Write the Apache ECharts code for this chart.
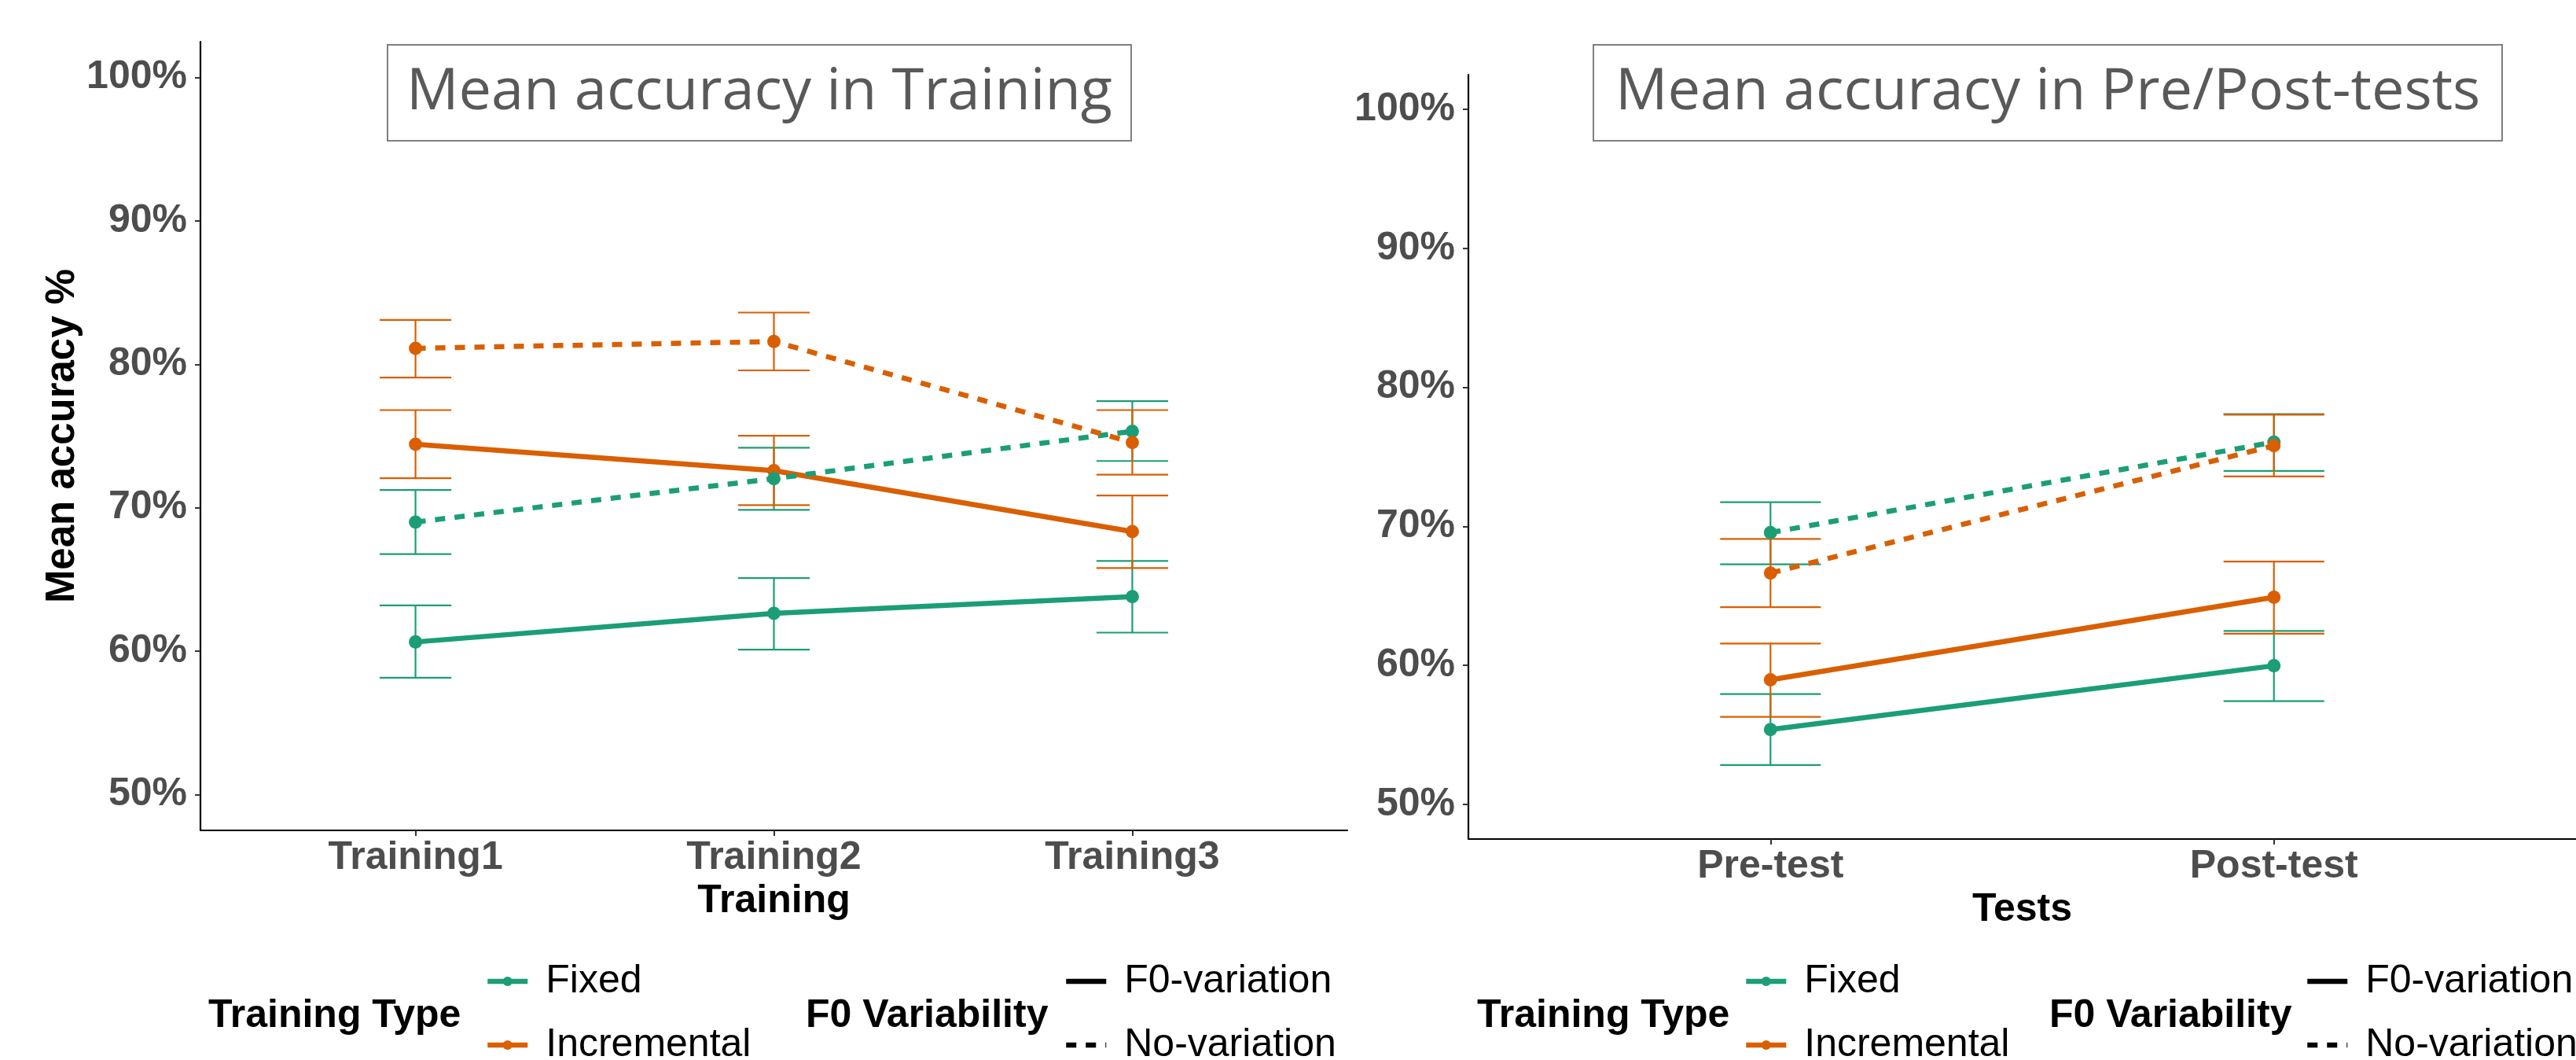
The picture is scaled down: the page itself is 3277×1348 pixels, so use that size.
<!DOCTYPE html>
<html>
<head>
<meta charset="utf-8">
<script src="https://cdn.jsdelivr.net/npm/echarts@6/dist/echarts.min.js"></script>
<style>
html,body{margin:0;padding:0;background:#fff;}
#chart{width:3277px;height:1348px;}
</style>
</head>
<body>
<div id="chart"></div>
<script>
// ---------- data ----------
const trainingCats = ['Training1', 'Training2', 'Training3'];
const testCats = ['Pre-test', 'Post-test'];
const yTicks = [50, 60, 70, 80, 90, 100];

// Training panel (mean, lower, upper)
const fixedF0Train   = [60.64, 62.63, 63.80];
const fixedF0TrainLo = [58.15, 60.11, 61.29];
const fixedF0TrainHi = [63.19, 65.09, 66.29];
const fixedNoTrain   = [69.00, 72.03, 75.33];
const fixedNoTrainLo = [66.77, 69.85, 73.26];
const fixedNoTrainHi = [71.24, 74.18, 77.43];
const incF0Train     = [74.43, 72.59, 68.34];
const incF0TrainLo   = [72.06, 70.18, 65.79];
const incF0TrainHi   = [76.81, 75.02, 70.85];
const incNoTrain     = [81.12, 81.59, 74.55];
const incNoTrainLo   = [79.08, 79.58, 72.31];
const incNoTrainHi   = [83.10, 83.61, 76.81];

// Pre/Post-test panel
const fixedF0Test    = [55.38, 59.97];
const fixedF0TestLo  = [52.83, 57.42];
const fixedF0TestHi  = [57.93, 62.47];
const fixedNoTest    = [69.55, 76.06];
const fixedNoTestLo  = [67.27, 73.99];
const fixedNoTestHi  = [71.74, 78.08];
const incF0Test      = [58.96, 64.90];
const incF0TestLo    = [56.29, 62.27];
const incF0TestHi    = [61.57, 67.47];
const incNoTest      = [66.64, 75.81];
const incNoTestLo    = [64.19, 73.59];
const incNoTestHi    = [69.09, 78.03];

// ---------- styling ----------
const GREEN = '#1b9e77';
const ORANGE = '#d95f02';
const FONT = "'Liberation Sans', Arial, sans-serif";
const TITLE_FONT = "'Open Sans', 'Noto Sans', sans-serif";
const DASH = [13, 12];
const LW = 6.5;

function lineSeries(name, color, vals, dashed, idx) {
  return {
    type: 'line', name: name, xAxisIndex: idx, yAxisIndex: idx, z: 3,
    data: vals.map((v, i) => [i + 1, v]),
    symbol: 'circle', symbolSize: 17, showSymbol: true,
    itemStyle: {color: color},
    lineStyle: {color: color, width: LW, type: dashed ? DASH : 'solid', cap: 'butt'},
    emphasis: {disabled: true}
  };
}
function errSeries(name, color, lo, hi, idx) {
  return {
    type: 'custom', name: name, xAxisIndex: idx, yAxisIndex: idx, z: 2,
    data: lo.map((l, i) => [i + 1, l, hi[i]]),
    encode: {x: 0, y: [1, 2]},
    renderItem: function (params, api) {
      const x = api.value(0);
      const p1 = api.coord([x, api.value(1)]);
      const p2 = api.coord([x, api.value(2)]);
      const hw = api.size([0.1, 0])[0];
      const st = {stroke: color, lineWidth: 2.2, fill: null};
      return {type: 'group', children: [
        {type: 'line', shape: {x1: p1[0], y1: p1[1], x2: p2[0], y2: p2[1]}, style: st},
        {type: 'line', shape: {x1: p1[0] - hw, y1: p1[1], x2: p1[0] + hw, y2: p1[1]}, style: st},
        {type: 'line', shape: {x1: p2[0] - hw, y1: p2[1], x2: p2[0] + hw, y2: p2[1]}, style: st}
      ]};
    }
  };
}
function xAxisDef(idx, cats, maxV, name) {
  const vals = cats.map((c, i) => i + 1);
  return {
    type: 'value', gridIndex: idx, min: 0.4, max: maxV,
    name: name, nameLocation: 'middle', nameGap: 64,
    nameTextStyle: {fontFamily: FONT, fontWeight: 'bold', fontSize: 50, color: '#000'},
    axisLine: {show: true, lineStyle: {color: '#000', width: 2.2}},
    axisTick: {show: true, customValues: vals, length: 7, lineStyle: {color: '#333', width: 2}},
    axisLabel: {show: true, customValues: vals, margin: 10,
      formatter: v => cats[Math.round(v) - 1] || '',
      fontFamily: FONT, fontWeight: 'bold', fontSize: 50, color: '#4d4d4d'},
    splitLine: {show: false}
  };
}
function yAxisDef(idx, name) {
  return {
    type: 'value', gridIndex: idx, min: 47.5, max: 102.5,
    name: name, nameLocation: 'middle', nameGap: 150,
    nameTextStyle: {fontFamily: FONT, fontWeight: 'bold', fontSize: 51, color: '#000'},
    axisLine: {show: true, lineStyle: {color: '#000', width: 2.2}},
    axisTick: {show: true, customValues: yTicks, length: 7, lineStyle: {color: '#333', width: 2}},
    axisLabel: {show: true, customValues: yTicks, margin: 17,
      formatter: v => Math.round(v) + '%',
      fontFamily: FONT, fontWeight: 'bold', fontSize: 50, color: '#4d4d4d'},
    splitLine: {show: false}
  };
}
function legendDef(left, names, hideSymbol) {
  const l = {
    orient: 'vertical', left: left, top: 1223, height: 300, padding: 0, itemGap: 31,
    itemWidth: 51, itemHeight: 15, data: names, selectedMode: false,
    lineStyle: {width: LW},
    textStyle: {fontFamily: FONT, fontSize: 50, lineHeight: 30, color: '#000', padding: [0, 0, 0, 18]}
  };
  if (hideSymbol) l.itemStyle = {color: 'rgba(0,0,0,0)', borderWidth: 0, opacity: 0};
  return l;
}
const titleBox = (text, left, padL) => ({
  text: text, left: left, top: 57,
  borderColor: '#7f7f7f', borderWidth: 2,
  padding: [24, padL, 24, padL],
  textStyle: {fontFamily: TITLE_FONT, fontWeight: 'normal', fontSize: 74, lineHeight: 74, color: '#595959'}
});
const legTitle = (text, left) => ({
  text: text, left: left, top: 1267, padding: 0,
  textStyle: {fontFamily: FONT, fontWeight: 'bold', fontSize: 50, lineHeight: 50, color: '#000'}
});

const chart = echarts.init(document.getElementById('chart'), null, {renderer: 'canvas'});
chart.setOption({
  animation: false,
  backgroundColor: '#fff',
  title: [
    titleBox('Mean accuracy in Training', 493, 24),
    titleBox('Mean accuracy in Pre/Post-tests', 2027, 28),
    legTitle('Training Type', 265),
    legTitle('F0 Variability', 1025),
    legTitle('Training Type', 1879),
    legTitle('F0 Variability', 2607)
  ],
  grid: [
    {left: 255, top: 53, width: 1459, height: 1003, outerBoundsMode: 'none', containLabel: false},
    {left: 1868, top: 95, width: 1409, height: 972, outerBoundsMode: 'none', containLabel: false}
  ],
  xAxis: [
    xAxisDef(0, trainingCats, 3.6, 'Training'),
    xAxisDef(1, testCats, 2.6, 'Tests')
  ],
  yAxis: [
    yAxisDef(0, 'Mean accuracy %'),
    yAxisDef(1, '')
  ],
  legend: [
    legendDef(617, ['Fixed', 'Incremental'], false),
    legendDef(1353, ['F0-variation', 'No-variation'], true),
    legendDef(2218, ['Fixed', 'Incremental'], false),
    legendDef(2932, ['F0-variation', 'No-variation'], true)
  ],
  series: [
    lineSeries('Fixed', GREEN, fixedF0Train, false, 0),
    lineSeries('Incremental', ORANGE, incF0Train, false, 0),
    lineSeries('Fixed', GREEN, fixedNoTrain, true, 0),
    lineSeries('Incremental', ORANGE, incNoTrain, true, 0),
    errSeries('Fixed F0 SE', GREEN, fixedF0TrainLo, fixedF0TrainHi, 0),
    errSeries('Fixed No SE', GREEN, fixedNoTrainLo, fixedNoTrainHi, 0),
    errSeries('Incremental F0 SE', ORANGE, incF0TrainLo, incF0TrainHi, 0),
    errSeries('Incremental No SE', ORANGE, incNoTrainLo, incNoTrainHi, 0),

    lineSeries('Fixed', GREEN, fixedF0Test, false, 1),
    lineSeries('Incremental', ORANGE, incF0Test, false, 1),
    lineSeries('Fixed', GREEN, fixedNoTest, true, 1),
    lineSeries('Incremental', ORANGE, incNoTest, true, 1),
    errSeries('Fixed F0 SE t', GREEN, fixedF0TestLo, fixedF0TestHi, 1),
    errSeries('Fixed No SE t', GREEN, fixedNoTestLo, fixedNoTestHi, 1),
    errSeries('Incremental F0 SE t', ORANGE, incF0TestLo, incF0TestHi, 1),
    errSeries('Incremental No SE t', ORANGE, incNoTestLo, incNoTestHi, 1),

    {type: 'line', name: 'F0-variation', xAxisIndex: 0, yAxisIndex: 0, data: [],
     symbol: 'none', itemStyle: {color: '#000'}, lineStyle: {color: '#000', width: LW, type: 'solid'}},
    {type: 'line', name: 'No-variation', xAxisIndex: 0, yAxisIndex: 0, data: [],
     symbol: 'none', itemStyle: {color: '#000'}, lineStyle: {color: '#000', width: LW, type: DASH}}
  ]
});
</script>
</body>
</html>
